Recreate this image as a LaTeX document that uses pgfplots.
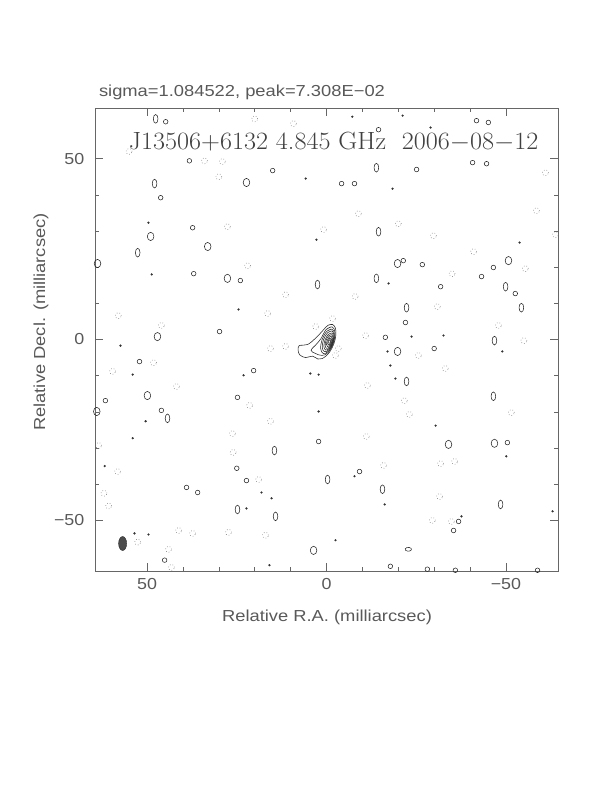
\documentclass[border=0pt]{standalone}
\usepackage{graphicx}
\usepackage{pgfplots}
\pgfplotsset{compat=1.18}
\usepackage{fontspec}
\newfontfamily\hersh{Liberation Sans}
\begin{document}
\begin{tikzpicture}
\path[use as bounding box] (0,0) rectangle (612bp,792bp);
\begin{axis}[
  at={(95bp,221bp)}, anchor=south west,
  scale only axis, width=463bp, height=463bp,
  x dir=reverse,
  xmin=-64.5, xmax=64.5, ymin=-64, ymax=64,
  xtick={-50,0,50}, ytick={-50,0,50},
  xticklabels={\hersh −50,\hersh 0,\hersh 50},
  yticklabels={\hersh −50,\hersh 0,\hersh 50},
  minor x tick num=4, minor y tick num=4,
  tick align=inside,
  major tick length=8bp, minor tick length=4bp,
  axis line style={black!60, line width=0.6pt},
  every tick/.style={black!60, line width=0.5pt},
  tick label style={font=\fontsize{16}{18}\selectfont, text=black!65, xscale=1.12},
  xticklabel style={yshift=-4bp},
  yticklabel style={xshift=-6bp},
  contour/.style={black!85, line width=0.55pt, smooth, tension=0.6, mark=none},
]
% ---- central source: nested contours ----
\addplot[contour] coordinates {(-1.65,4.16) (-0.39,3.92) (0.97,2.53) (3.0,0.4) (5.3,-1.4) (7.6,-1.7) (7.9,-3.0) (7.4,-4.3) (5.8,-5.0) (3.9,-4.6) (2.4,-5.4) (1.3,-5.3) (0.2,-4.6) (-0.97,-3.33) (-2.07,-1.15) (-2.62,1.23) (-2.47,3.18) (-1.65,4.16) (-0.39,3.92)};
\addplot[contour] coordinates {(-1.58,3.50) (0.07,2.79) (1.59,0.18) (3.0,-1.5) (4.3,-3.0) (3.0,-3.9) (1.28,-4.40) (-0.37,-3.69) (-1.89,-1.08) (-2.39,1.90) (-1.58,3.50) (0.07,2.79)};
\addplot[contour] coordinates {(-1.52,2.88) (-0.10,2.27) (1.20,0.04) (1.62,-2.51) (0.92,-3.88) (-0.50,-3.27) (-1.80,-1.04) (-2.22,1.51) (-1.52,2.88) (-0.10,2.27)};
\addplot[contour] coordinates {(-1.49,2.37) (-0.29,1.85) (0.82,-0.04) (1.18,-2.20) (0.59,-3.37) (-0.61,-2.85) (-1.72,-0.96) (-2.08,1.20) (-1.49,2.37) (-0.29,1.85)};
\addplot[contour] coordinates {(-1.45,1.80) (-0.47,1.37) (0.43,-0.18) (0.73,-1.95) (0.25,-2.90) (-0.73,-2.47) (-1.63,-0.92) (-1.93,0.85) (-1.45,1.80) (-0.47,1.37)};
\addplot[contour] coordinates {(-1.38,1.33) (-0.59,0.99) (0.13,-0.25) (0.37,-1.67) (-0.02,-2.43) (-0.81,-2.09) (-1.53,-0.85) (-1.77,0.57) (-1.38,1.33) (-0.59,0.99)};
\addplot[contour] coordinates {(-1.31,0.86) (-0.72,0.60) (-0.18,-0.33) (0,-1.39) (-0.29,-1.96) (-0.88,-1.70) (-1.42,-0.77) (-1.60,0.29) (-1.31,0.86) (-0.72,0.60)};
\addplot[contour] coordinates {(-1.19,0.39) (-0.79,0.22) (-0.43,-0.40) (-0.31,-1.11) (-0.51,-1.49) (-0.91,-1.32) (-1.27,-0.70) (-1.39,0.01) (-1.19,0.39) (-0.79,0.22)};
\addplot[contour] coordinates {(-1.07,-0.03) (-0.85,-0.12) (-0.64,-0.47) (-0.58,-0.86) (-0.69,-1.07) (-0.92,-0.98) (-1.12,-0.64) (-1.18,-0.24) (-1.07,-0.03) (-0.85,-0.12)};
% ---- small positive noise contours ----
\addplot[only marks, mark=o, mark size=2.3bp, mark options={black!85, line width=0.55pt}] coordinates {
(44.8,60.2) (38.2,49.4) (46.2,39.2) (15.0,46.7) (37.3,30.9) (37.0,18.2) (24.0,16.3) (29.8,2.2)
(-14.5,58) (-41.8,60.5) (-45.1,60) (-40.7,48.9) (-44.6,48.6) (-25.1,47) (-4.2,43.1) (-7.8,43.1)
(-21.4,21.8) (-26.7,20.7) (-46.5,19.9) (-43.2,17.4) (-31.8,14.6) (-52.6,12.7) (-22,4.7) (-16.4,0.6)
(52.1,-6.1) (20.3,-8.6) (61.6,-16.9) (24.8,-16) (46,-19.6) (2.2,-28.2) (25,-35.6) (22.3,-39)
(39,-40.9) (35.9,-42.3) (45.1,-61) (-30,-2.5) (-50.4,-28.5) (-9.2,-36.5) (-36.8,-50.3) (-35.4,-52.8)
(-17.8,-62.7) (-28.1,-63.5) (-35.9,-63.8) (-58.8,-63.8)};
% ---- medium positive contours ----
\addplot[only marks, mark=o, mark size=3.3bp, mark options={black!85, line width=0.55pt, yscale=1.25}] coordinates {
(22.3,43.4) (49.0,28.5) (33.1,25.7) (63.8,21.0) (27.6,16.9) (47.1,0.8)
(-19.8,21) (-50.7,21.8) (49.9,-15.5) (64,-19.9) (3.6,-58.3) (-19.8,-3.3) (-34,-29) (-46.8,-28.7)};
% ---- vertically elongated contours ----
\addplot[only marks, mark=o, mark size=2.9bp, mark options={black!85, line width=0.55pt, xscale=0.8, yscale=1.5}] coordinates {
(47.6,61.0) (47.9,43.1) (52.6,24.0) (2.5,15.2) (-13.9,47.5) (-14.5,29.8) (-13.9,16.9) (-49.9,14.6)
(-22.3,8.8) (-54.3,8.8) (44.3,-21.8) (14.5,-30.7) (-0.3,-38.7) (24.8,-47) (14.2,-48.9)
(-22.3,-11.6) (-46.5,-15.7) (-15.6,-41.4) (-48.5,-45.6) (-46.8,-0.3)};
\addplot[only marks, mark=o, mark size=3.2bp, mark options={black!85, line width=0.55pt, yscale=0.6, rotate=30}] coordinates {(-22.8,-58)};
% ---- tiny positive contours ----
\addplot[only marks, mark=*, mark size=0.9bp, mark options={black!80}] coordinates {
(5.8,44.5) (48.7,18.0) (2.8,27.6) (24.5,8.3) (49.6,32.3) (-7.2,61.6) (-21.2,61.9) (-29,58.6)
(-18.4,41.7) (-17.3,15.5) (-23.7,0.8) (-32.6,1.1) (-53.8,26.8) (57.4,-1.7) (54,-9.7) (23.1,-9.9)
(50.4,-22.6) (54,-27.3) (61.8,-35) (18.1,-42.3) (15.3,-43.9) (22.3,-46.7) (53.5,-53.6) (49.6,-53.9)
(15.9,-62.4) (2.2,-9.7) (4.5,-9.4) (2.2,-19.9) (-17,-3.3) (-17.8,-7.2) (-19.2,-10.8) (-49,-3.3)
(-30.4,-23.8) (-50.1,-32.3) (-7.8,-37.8) (-16.2,-45.6) (-63,-47.5) (-37.6,-48.9) (-2.5,-55.5)};
% ---- negative contours (dotted) ----
\addplot[only marks, mark=o, mark size=3bp, mark options={black!55, line width=0.6pt, dash pattern=on 0.6pt off 2.2pt}] coordinates {
(20,61) (9.2,59.7) (55,52) (34,49.4) (29,49.2) (30,45) (0.8,30.4) (22,20.4) (11.4,12.4) (58,6.6)
(46,3.9) (16.4,7.2) (27.6,31.2) (-8.9,34.8) (-20,32) (-29.8,28.7) (-58.5,35.6) (-63.8,29) (-35,18.2)
(-55.4,19.6) (-30.9,9.1) (-47.9,3.9) (-61,46.1) (-41,24.3) (-8,11.9) (-10.9,1.1)
(59.6,-8.8) (48.2,-6.4) (11.4,-1.9) (15.6,-2.5) (41.8,-13) (21.4,-18.2) (15.6,-22.6) (26.2,-26)
(63.5,-29.3) (26,-31.2) (58.2,-36.5) (62,-42.5) (60.7,-46) (18.9,-38.7) (41.2,-52.8) (37.3,-53.6)
(44,-58) (27.3,-53.3) (17,-54.1) (43.2,-63) (52.6,-56) (-3.3,-2.5) (-25.6,-4.4) (-33.1,-8)
(-11.4,-12.7) (-21.7,-16.9) (-23.1,-20.7) (-51.5,-20.2) (-11.1,-26.8) (-15.9,-34.8) (-31.8,-34.3)
(-35.7,-33.7) (-31.5,-43.4) (-29.5,-50) (-34.8,-50.3) (-55,-0.3) (3,3.6) (-1.7,5.8) (-2.5,-4.4)};
% ---- beam ----
\addplot[only marks, mark=*, mark size=4bp, mark options={fill=black!70, draw=black!85, yscale=1.75}] coordinates {(56.8,-56.4)};
% ---- in-plot title ----
\node[font=\fontsize{25}{30}\selectfont, text=black!75, anchor=base, xscale=1.05] at (axis cs:-2,52.6) {J13506+6132 4.845 GHz~~2006$-$08$-$12};
\end{axis}
\node[anchor=base west, font=\hersh\fontsize{16}{18}\selectfont, text=black!65, xscale=1.15] at (95bp,695bp) {sigma=1.084522, peak=7.308E−02};
\node[font=\hersh\fontsize{16}{18}\selectfont, text=black!65, xscale=1.15] at (327bp,175bp) {Relative R.A. (milliarcsec)};
\node[rotate=90, font=\hersh\fontsize{16}{18}\selectfont, text=black!65] at (41bp,470bp) {\scalebox{1.15}[1]{Relative Decl. (milliarcsec)}};
\end{tikzpicture}
\end{document}
